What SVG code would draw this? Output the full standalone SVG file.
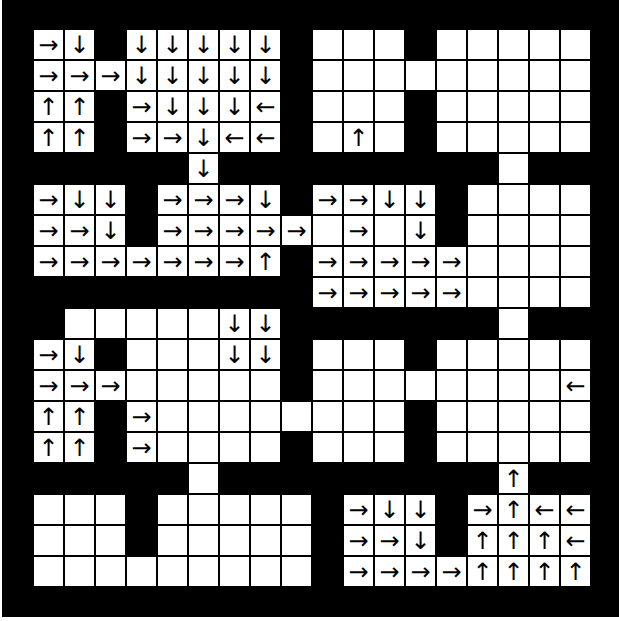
<svg xmlns="http://www.w3.org/2000/svg" xmlns:xlink="http://www.w3.org/1999/xlink" width="619" height="621" viewBox="0 0 619 621">
<style>
.a{font-family:"DejaVu Sans",sans-serif;font-size:24px;text-anchor:middle;dominant-baseline:central;fill:#000}
</style>
<defs><rect id="cell" width="29" height="29" fill="#fff"/></defs>
<rect x="0" y="0" width="619" height="621" fill="#fff"/>
<rect x="2" y="0" width="617" height="617" fill="#000"/>
<g id="connectors"></g>
<g id="cells">
<!-- row 0 -->
<g id="r0c0" transform="translate(34 30)"><use href="#cell"/><text class="a" x="14.5" y="14.5">→</text></g>
<g id="r0c1" transform="translate(65 30)"><use href="#cell"/><text class="a" x="14.5" y="14.5">↓</text></g>
<g id="r0c3" transform="translate(127 30)"><use href="#cell"/><text class="a" x="14.5" y="14.5">↓</text></g>
<g id="r0c4" transform="translate(158 30)"><use href="#cell"/><text class="a" x="14.5" y="14.5">↓</text></g>
<g id="r0c5" transform="translate(189 30)"><use href="#cell"/><text class="a" x="14.5" y="14.5">↓</text></g>
<g id="r0c6" transform="translate(220 30)"><use href="#cell"/><text class="a" x="14.5" y="14.5">↓</text></g>
<g id="r0c7" transform="translate(251 30)"><use href="#cell"/><text class="a" x="14.5" y="14.5">↓</text></g>
<g id="r0c9" transform="translate(313 30)"><use href="#cell"/></g>
<g id="r0c10" transform="translate(344 30)"><use href="#cell"/></g>
<g id="r0c11" transform="translate(375 30)"><use href="#cell"/></g>
<g id="r0c13" transform="translate(437 30)"><use href="#cell"/></g>
<g id="r0c14" transform="translate(468 30)"><use href="#cell"/></g>
<g id="r0c15" transform="translate(499 30)"><use href="#cell"/></g>
<g id="r0c16" transform="translate(530 30)"><use href="#cell"/></g>
<g id="r0c17" transform="translate(561 30)"><use href="#cell"/></g>
<!-- row 1 -->
<g id="r1c0" transform="translate(34 61)"><use href="#cell"/><text class="a" x="14.5" y="14.5">→</text></g>
<g id="r1c1" transform="translate(65 61)"><use href="#cell"/><text class="a" x="14.5" y="14.5">→</text></g>
<g id="r1c2" transform="translate(96 61)"><use href="#cell"/><text class="a" x="14.5" y="14.5">→</text></g>
<g id="r1c3" transform="translate(127 61)"><use href="#cell"/><text class="a" x="14.5" y="14.5">↓</text></g>
<g id="r1c4" transform="translate(158 61)"><use href="#cell"/><text class="a" x="14.5" y="14.5">↓</text></g>
<g id="r1c5" transform="translate(189 61)"><use href="#cell"/><text class="a" x="14.5" y="14.5">↓</text></g>
<g id="r1c6" transform="translate(220 61)"><use href="#cell"/><text class="a" x="14.5" y="14.5">↓</text></g>
<g id="r1c7" transform="translate(251 61)"><use href="#cell"/><text class="a" x="14.5" y="14.5">↓</text></g>
<g id="r1c9" transform="translate(313 61)"><use href="#cell"/></g>
<g id="r1c10" transform="translate(344 61)"><use href="#cell"/></g>
<g id="r1c11" transform="translate(375 61)"><use href="#cell"/></g>
<g id="r1c12" transform="translate(406 61)"><use href="#cell"/></g>
<g id="r1c13" transform="translate(437 61)"><use href="#cell"/></g>
<g id="r1c14" transform="translate(468 61)"><use href="#cell"/></g>
<g id="r1c15" transform="translate(499 61)"><use href="#cell"/></g>
<g id="r1c16" transform="translate(530 61)"><use href="#cell"/></g>
<g id="r1c17" transform="translate(561 61)"><use href="#cell"/></g>
<!-- row 2 -->
<g id="r2c0" transform="translate(34 92)"><use href="#cell"/><text class="a" x="14.5" y="14.5">↑</text></g>
<g id="r2c1" transform="translate(65 92)"><use href="#cell"/><text class="a" x="14.5" y="14.5">↑</text></g>
<g id="r2c3" transform="translate(127 92)"><use href="#cell"/><text class="a" x="14.5" y="14.5">→</text></g>
<g id="r2c4" transform="translate(158 92)"><use href="#cell"/><text class="a" x="14.5" y="14.5">↓</text></g>
<g id="r2c5" transform="translate(189 92)"><use href="#cell"/><text class="a" x="14.5" y="14.5">↓</text></g>
<g id="r2c6" transform="translate(220 92)"><use href="#cell"/><text class="a" x="14.5" y="14.5">↓</text></g>
<g id="r2c7" transform="translate(251 92)"><use href="#cell"/><text class="a" x="14.5" y="14.5">←</text></g>
<g id="r2c9" transform="translate(313 92)"><use href="#cell"/></g>
<g id="r2c10" transform="translate(344 92)"><use href="#cell"/></g>
<g id="r2c11" transform="translate(375 92)"><use href="#cell"/></g>
<g id="r2c13" transform="translate(437 92)"><use href="#cell"/></g>
<g id="r2c14" transform="translate(468 92)"><use href="#cell"/></g>
<g id="r2c15" transform="translate(499 92)"><use href="#cell"/></g>
<g id="r2c16" transform="translate(530 92)"><use href="#cell"/></g>
<g id="r2c17" transform="translate(561 92)"><use href="#cell"/></g>
<!-- row 3 -->
<g id="r3c0" transform="translate(34 123)"><use href="#cell"/><text class="a" x="14.5" y="14.5">↑</text></g>
<g id="r3c1" transform="translate(65 123)"><use href="#cell"/><text class="a" x="14.5" y="14.5">↑</text></g>
<g id="r3c3" transform="translate(127 123)"><use href="#cell"/><text class="a" x="14.5" y="14.5">→</text></g>
<g id="r3c4" transform="translate(158 123)"><use href="#cell"/><text class="a" x="14.5" y="14.5">→</text></g>
<g id="r3c5" transform="translate(189 123)"><use href="#cell"/><text class="a" x="14.5" y="14.5">↓</text></g>
<g id="r3c6" transform="translate(220 123)"><use href="#cell"/><text class="a" x="14.5" y="14.5">←</text></g>
<g id="r3c7" transform="translate(251 123)"><use href="#cell"/><text class="a" x="14.5" y="14.5">←</text></g>
<g id="r3c9" transform="translate(313 123)"><use href="#cell"/></g>
<g id="r3c10" transform="translate(344 123)"><use href="#cell"/><text class="a" x="14.5" y="14.5">↑</text></g>
<g id="r3c11" transform="translate(375 123)"><use href="#cell"/></g>
<g id="r3c13" transform="translate(437 123)"><use href="#cell"/></g>
<g id="r3c14" transform="translate(468 123)"><use href="#cell"/></g>
<g id="r3c15" transform="translate(499 123)"><use href="#cell"/></g>
<g id="r3c16" transform="translate(530 123)"><use href="#cell"/></g>
<g id="r3c17" transform="translate(561 123)"><use href="#cell"/></g>
<!-- row 4 -->
<g id="r4c5" transform="translate(189 154)"><use href="#cell"/><text class="a" x="14.5" y="14.5">↓</text></g>
<g id="r4c15" transform="translate(499 154)"><use href="#cell"/></g>
<!-- row 5 -->
<g id="r5c0" transform="translate(34 185)"><use href="#cell"/><text class="a" x="14.5" y="14.5">→</text></g>
<g id="r5c1" transform="translate(65 185)"><use href="#cell"/><text class="a" x="14.5" y="14.5">↓</text></g>
<g id="r5c2" transform="translate(96 185)"><use href="#cell"/><text class="a" x="14.5" y="14.5">↓</text></g>
<g id="r5c4" transform="translate(158 185)"><use href="#cell"/><text class="a" x="14.5" y="14.5">→</text></g>
<g id="r5c5" transform="translate(189 185)"><use href="#cell"/><text class="a" x="14.5" y="14.5">→</text></g>
<g id="r5c6" transform="translate(220 185)"><use href="#cell"/><text class="a" x="14.5" y="14.5">→</text></g>
<g id="r5c7" transform="translate(251 185)"><use href="#cell"/><text class="a" x="14.5" y="14.5">↓</text></g>
<g id="r5c9" transform="translate(313 185)"><use href="#cell"/><text class="a" x="14.5" y="14.5">→</text></g>
<g id="r5c10" transform="translate(344 185)"><use href="#cell"/><text class="a" x="14.5" y="14.5">→</text></g>
<g id="r5c11" transform="translate(375 185)"><use href="#cell"/><text class="a" x="14.5" y="14.5">↓</text></g>
<g id="r5c12" transform="translate(406 185)"><use href="#cell"/><text class="a" x="14.5" y="14.5">↓</text></g>
<g id="r5c14" transform="translate(468 185)"><use href="#cell"/></g>
<g id="r5c15" transform="translate(499 185)"><use href="#cell"/></g>
<g id="r5c16" transform="translate(530 185)"><use href="#cell"/></g>
<g id="r5c17" transform="translate(561 185)"><use href="#cell"/></g>
<!-- row 6 -->
<g id="r6c0" transform="translate(34 216)"><use href="#cell"/><text class="a" x="14.5" y="14.5">→</text></g>
<g id="r6c1" transform="translate(65 216)"><use href="#cell"/><text class="a" x="14.5" y="14.5">→</text></g>
<g id="r6c2" transform="translate(96 216)"><use href="#cell"/><text class="a" x="14.5" y="14.5">↓</text></g>
<g id="r6c4" transform="translate(158 216)"><use href="#cell"/><text class="a" x="14.5" y="14.5">→</text></g>
<g id="r6c5" transform="translate(189 216)"><use href="#cell"/><text class="a" x="14.5" y="14.5">→</text></g>
<g id="r6c6" transform="translate(220 216)"><use href="#cell"/><text class="a" x="14.5" y="14.5">→</text></g>
<g id="r6c7" transform="translate(251 216)"><use href="#cell"/><text class="a" x="14.5" y="14.5">→</text></g>
<g id="r6c8" transform="translate(282 216)"><use href="#cell"/><text class="a" x="14.5" y="14.5">→</text></g>
<g id="r6c9" transform="translate(313 216)"><use href="#cell"/></g>
<g id="r6c10" transform="translate(344 216)"><use href="#cell"/><text class="a" x="14.5" y="14.5">→</text></g>
<g id="r6c11" transform="translate(375 216)"><use href="#cell"/></g>
<g id="r6c12" transform="translate(406 216)"><use href="#cell"/><text class="a" x="14.5" y="14.5">↓</text></g>
<g id="r6c14" transform="translate(468 216)"><use href="#cell"/></g>
<g id="r6c15" transform="translate(499 216)"><use href="#cell"/></g>
<g id="r6c16" transform="translate(530 216)"><use href="#cell"/></g>
<g id="r6c17" transform="translate(561 216)"><use href="#cell"/></g>
<!-- row 7 -->
<g id="r7c0" transform="translate(34 247)"><use href="#cell"/><text class="a" x="14.5" y="14.5">→</text></g>
<g id="r7c1" transform="translate(65 247)"><use href="#cell"/><text class="a" x="14.5" y="14.5">→</text></g>
<g id="r7c2" transform="translate(96 247)"><use href="#cell"/><text class="a" x="14.5" y="14.5">→</text></g>
<g id="r7c3" transform="translate(127 247)"><use href="#cell"/><text class="a" x="14.5" y="14.5">→</text></g>
<g id="r7c4" transform="translate(158 247)"><use href="#cell"/><text class="a" x="14.5" y="14.5">→</text></g>
<g id="r7c5" transform="translate(189 247)"><use href="#cell"/><text class="a" x="14.5" y="14.5">→</text></g>
<g id="r7c6" transform="translate(220 247)"><use href="#cell"/><text class="a" x="14.5" y="14.5">→</text></g>
<g id="r7c7" transform="translate(251 247)"><use href="#cell"/><text class="a" x="14.5" y="14.5">↑</text></g>
<g id="r7c9" transform="translate(313 247)"><use href="#cell"/><text class="a" x="14.5" y="14.5">→</text></g>
<g id="r7c10" transform="translate(344 247)"><use href="#cell"/><text class="a" x="14.5" y="14.5">→</text></g>
<g id="r7c11" transform="translate(375 247)"><use href="#cell"/><text class="a" x="14.5" y="14.5">→</text></g>
<g id="r7c12" transform="translate(406 247)"><use href="#cell"/><text class="a" x="14.5" y="14.5">→</text></g>
<g id="r7c13" transform="translate(437 247)"><use href="#cell"/><text class="a" x="14.5" y="14.5">→</text></g>
<g id="r7c14" transform="translate(468 247)"><use href="#cell"/></g>
<g id="r7c15" transform="translate(499 247)"><use href="#cell"/></g>
<g id="r7c16" transform="translate(530 247)"><use href="#cell"/></g>
<g id="r7c17" transform="translate(561 247)"><use href="#cell"/></g>
<!-- row 8 -->
<g id="r8c9" transform="translate(313 278)"><use href="#cell"/><text class="a" x="14.5" y="14.5">→</text></g>
<g id="r8c10" transform="translate(344 278)"><use href="#cell"/><text class="a" x="14.5" y="14.5">→</text></g>
<g id="r8c11" transform="translate(375 278)"><use href="#cell"/><text class="a" x="14.5" y="14.5">→</text></g>
<g id="r8c12" transform="translate(406 278)"><use href="#cell"/><text class="a" x="14.5" y="14.5">→</text></g>
<g id="r8c13" transform="translate(437 278)"><use href="#cell"/><text class="a" x="14.5" y="14.5">→</text></g>
<g id="r8c14" transform="translate(468 278)"><use href="#cell"/></g>
<g id="r8c15" transform="translate(499 278)"><use href="#cell"/></g>
<g id="r8c16" transform="translate(530 278)"><use href="#cell"/></g>
<g id="r8c17" transform="translate(561 278)"><use href="#cell"/></g>
<!-- row 9 -->
<g id="r9c1" transform="translate(65 309)"><use href="#cell"/></g>
<g id="r9c2" transform="translate(96 309)"><use href="#cell"/></g>
<g id="r9c3" transform="translate(127 309)"><use href="#cell"/></g>
<g id="r9c4" transform="translate(158 309)"><use href="#cell"/></g>
<g id="r9c5" transform="translate(189 309)"><use href="#cell"/></g>
<g id="r9c6" transform="translate(220 309)"><use href="#cell"/><text class="a" x="14.5" y="14.5">↓</text></g>
<g id="r9c7" transform="translate(251 309)"><use href="#cell"/><text class="a" x="14.5" y="14.5">↓</text></g>
<g id="r9c15" transform="translate(499 309)"><use href="#cell"/></g>
<!-- row 10 -->
<g id="r10c0" transform="translate(34 340)"><use href="#cell"/><text class="a" x="14.5" y="14.5">→</text></g>
<g id="r10c1" transform="translate(65 340)"><use href="#cell"/><text class="a" x="14.5" y="14.5">↓</text></g>
<g id="r10c3" transform="translate(127 340)"><use href="#cell"/></g>
<g id="r10c4" transform="translate(158 340)"><use href="#cell"/></g>
<g id="r10c5" transform="translate(189 340)"><use href="#cell"/></g>
<g id="r10c6" transform="translate(220 340)"><use href="#cell"/><text class="a" x="14.5" y="14.5">↓</text></g>
<g id="r10c7" transform="translate(251 340)"><use href="#cell"/><text class="a" x="14.5" y="14.5">↓</text></g>
<g id="r10c9" transform="translate(313 340)"><use href="#cell"/></g>
<g id="r10c10" transform="translate(344 340)"><use href="#cell"/></g>
<g id="r10c11" transform="translate(375 340)"><use href="#cell"/></g>
<g id="r10c13" transform="translate(437 340)"><use href="#cell"/></g>
<g id="r10c14" transform="translate(468 340)"><use href="#cell"/></g>
<g id="r10c15" transform="translate(499 340)"><use href="#cell"/></g>
<g id="r10c16" transform="translate(530 340)"><use href="#cell"/></g>
<g id="r10c17" transform="translate(561 340)"><use href="#cell"/></g>
<!-- row 11 -->
<g id="r11c0" transform="translate(34 371)"><use href="#cell"/><text class="a" x="14.5" y="14.5">→</text></g>
<g id="r11c1" transform="translate(65 371)"><use href="#cell"/><text class="a" x="14.5" y="14.5">→</text></g>
<g id="r11c2" transform="translate(96 371)"><use href="#cell"/><text class="a" x="14.5" y="14.5">→</text></g>
<g id="r11c3" transform="translate(127 371)"><use href="#cell"/></g>
<g id="r11c4" transform="translate(158 371)"><use href="#cell"/></g>
<g id="r11c5" transform="translate(189 371)"><use href="#cell"/></g>
<g id="r11c6" transform="translate(220 371)"><use href="#cell"/></g>
<g id="r11c7" transform="translate(251 371)"><use href="#cell"/></g>
<g id="r11c9" transform="translate(313 371)"><use href="#cell"/></g>
<g id="r11c10" transform="translate(344 371)"><use href="#cell"/></g>
<g id="r11c11" transform="translate(375 371)"><use href="#cell"/></g>
<g id="r11c12" transform="translate(406 371)"><use href="#cell"/></g>
<g id="r11c13" transform="translate(437 371)"><use href="#cell"/></g>
<g id="r11c14" transform="translate(468 371)"><use href="#cell"/></g>
<g id="r11c15" transform="translate(499 371)"><use href="#cell"/></g>
<g id="r11c16" transform="translate(530 371)"><use href="#cell"/></g>
<g id="r11c17" transform="translate(561 371)"><use href="#cell"/><text class="a" x="14.5" y="14.5">←</text></g>
<!-- row 12 -->
<g id="r12c0" transform="translate(34 402)"><use href="#cell"/><text class="a" x="14.5" y="14.5">↑</text></g>
<g id="r12c1" transform="translate(65 402)"><use href="#cell"/><text class="a" x="14.5" y="14.5">↑</text></g>
<g id="r12c3" transform="translate(127 402)"><use href="#cell"/><text class="a" x="14.5" y="14.5">→</text></g>
<g id="r12c4" transform="translate(158 402)"><use href="#cell"/></g>
<g id="r12c5" transform="translate(189 402)"><use href="#cell"/></g>
<g id="r12c6" transform="translate(220 402)"><use href="#cell"/></g>
<g id="r12c7" transform="translate(251 402)"><use href="#cell"/></g>
<g id="r12c8" transform="translate(282 402)"><use href="#cell"/></g>
<g id="r12c9" transform="translate(313 402)"><use href="#cell"/></g>
<g id="r12c10" transform="translate(344 402)"><use href="#cell"/></g>
<g id="r12c11" transform="translate(375 402)"><use href="#cell"/></g>
<g id="r12c13" transform="translate(437 402)"><use href="#cell"/></g>
<g id="r12c14" transform="translate(468 402)"><use href="#cell"/></g>
<g id="r12c15" transform="translate(499 402)"><use href="#cell"/></g>
<g id="r12c16" transform="translate(530 402)"><use href="#cell"/></g>
<g id="r12c17" transform="translate(561 402)"><use href="#cell"/></g>
<!-- row 13 -->
<g id="r13c0" transform="translate(34 433)"><use href="#cell"/><text class="a" x="14.5" y="14.5">↑</text></g>
<g id="r13c1" transform="translate(65 433)"><use href="#cell"/><text class="a" x="14.5" y="14.5">↑</text></g>
<g id="r13c3" transform="translate(127 433)"><use href="#cell"/><text class="a" x="14.5" y="14.5">→</text></g>
<g id="r13c4" transform="translate(158 433)"><use href="#cell"/></g>
<g id="r13c5" transform="translate(189 433)"><use href="#cell"/></g>
<g id="r13c6" transform="translate(220 433)"><use href="#cell"/></g>
<g id="r13c7" transform="translate(251 433)"><use href="#cell"/></g>
<g id="r13c9" transform="translate(313 433)"><use href="#cell"/></g>
<g id="r13c10" transform="translate(344 433)"><use href="#cell"/></g>
<g id="r13c11" transform="translate(375 433)"><use href="#cell"/></g>
<g id="r13c13" transform="translate(437 433)"><use href="#cell"/></g>
<g id="r13c14" transform="translate(468 433)"><use href="#cell"/></g>
<g id="r13c15" transform="translate(499 433)"><use href="#cell"/></g>
<g id="r13c16" transform="translate(530 433)"><use href="#cell"/></g>
<g id="r13c17" transform="translate(561 433)"><use href="#cell"/></g>
<!-- row 14 -->
<g id="r14c5" transform="translate(189 464)"><use href="#cell"/></g>
<g id="r14c15" transform="translate(499 464)"><use href="#cell"/><text class="a" x="14.5" y="14.5">↑</text></g>
<!-- row 15 -->
<g id="r15c0" transform="translate(34 495)"><use href="#cell"/></g>
<g id="r15c1" transform="translate(65 495)"><use href="#cell"/></g>
<g id="r15c2" transform="translate(96 495)"><use href="#cell"/></g>
<g id="r15c4" transform="translate(158 495)"><use href="#cell"/></g>
<g id="r15c5" transform="translate(189 495)"><use href="#cell"/></g>
<g id="r15c6" transform="translate(220 495)"><use href="#cell"/></g>
<g id="r15c7" transform="translate(251 495)"><use href="#cell"/></g>
<g id="r15c8" transform="translate(282 495)"><use href="#cell"/></g>
<g id="r15c10" transform="translate(344 495)"><use href="#cell"/><text class="a" x="14.5" y="14.5">→</text></g>
<g id="r15c11" transform="translate(375 495)"><use href="#cell"/><text class="a" x="14.5" y="14.5">↓</text></g>
<g id="r15c12" transform="translate(406 495)"><use href="#cell"/><text class="a" x="14.5" y="14.5">↓</text></g>
<g id="r15c14" transform="translate(468 495)"><use href="#cell"/><text class="a" x="14.5" y="14.5">→</text></g>
<g id="r15c15" transform="translate(499 495)"><use href="#cell"/><text class="a" x="14.5" y="14.5">↑</text></g>
<g id="r15c16" transform="translate(530 495)"><use href="#cell"/><text class="a" x="14.5" y="14.5">←</text></g>
<g id="r15c17" transform="translate(561 495)"><use href="#cell"/><text class="a" x="14.5" y="14.5">←</text></g>
<!-- row 16 -->
<g id="r16c0" transform="translate(34 526)"><use href="#cell"/></g>
<g id="r16c1" transform="translate(65 526)"><use href="#cell"/></g>
<g id="r16c2" transform="translate(96 526)"><use href="#cell"/></g>
<g id="r16c4" transform="translate(158 526)"><use href="#cell"/></g>
<g id="r16c5" transform="translate(189 526)"><use href="#cell"/></g>
<g id="r16c6" transform="translate(220 526)"><use href="#cell"/></g>
<g id="r16c7" transform="translate(251 526)"><use href="#cell"/></g>
<g id="r16c8" transform="translate(282 526)"><use href="#cell"/></g>
<g id="r16c10" transform="translate(344 526)"><use href="#cell"/><text class="a" x="14.5" y="14.5">→</text></g>
<g id="r16c11" transform="translate(375 526)"><use href="#cell"/><text class="a" x="14.5" y="14.5">→</text></g>
<g id="r16c12" transform="translate(406 526)"><use href="#cell"/><text class="a" x="14.5" y="14.5">↓</text></g>
<g id="r16c14" transform="translate(468 526)"><use href="#cell"/><text class="a" x="14.5" y="14.5">↑</text></g>
<g id="r16c15" transform="translate(499 526)"><use href="#cell"/><text class="a" x="14.5" y="14.5">↑</text></g>
<g id="r16c16" transform="translate(530 526)"><use href="#cell"/><text class="a" x="14.5" y="14.5">↑</text></g>
<g id="r16c17" transform="translate(561 526)"><use href="#cell"/><text class="a" x="14.5" y="14.5">←</text></g>
<!-- row 17 -->
<g id="r17c0" transform="translate(34 557)"><use href="#cell"/></g>
<g id="r17c1" transform="translate(65 557)"><use href="#cell"/></g>
<g id="r17c2" transform="translate(96 557)"><use href="#cell"/></g>
<g id="r17c3" transform="translate(127 557)"><use href="#cell"/></g>
<g id="r17c4" transform="translate(158 557)"><use href="#cell"/></g>
<g id="r17c5" transform="translate(189 557)"><use href="#cell"/></g>
<g id="r17c6" transform="translate(220 557)"><use href="#cell"/></g>
<g id="r17c7" transform="translate(251 557)"><use href="#cell"/></g>
<g id="r17c8" transform="translate(282 557)"><use href="#cell"/></g>
<g id="r17c10" transform="translate(344 557)"><use href="#cell"/><text class="a" x="14.5" y="14.5">→</text></g>
<g id="r17c11" transform="translate(375 557)"><use href="#cell"/><text class="a" x="14.5" y="14.5">→</text></g>
<g id="r17c12" transform="translate(406 557)"><use href="#cell"/><text class="a" x="14.5" y="14.5">→</text></g>
<g id="r17c13" transform="translate(437 557)"><use href="#cell"/><text class="a" x="14.5" y="14.5">→</text></g>
<g id="r17c14" transform="translate(468 557)"><use href="#cell"/><text class="a" x="14.5" y="14.5">↑</text></g>
<g id="r17c15" transform="translate(499 557)"><use href="#cell"/><text class="a" x="14.5" y="14.5">↑</text></g>
<g id="r17c16" transform="translate(530 557)"><use href="#cell"/><text class="a" x="14.5" y="14.5">↑</text></g>
<g id="r17c17" transform="translate(561 557)"><use href="#cell"/><text class="a" x="14.5" y="14.5">↑</text></g>
</g>
</svg>
